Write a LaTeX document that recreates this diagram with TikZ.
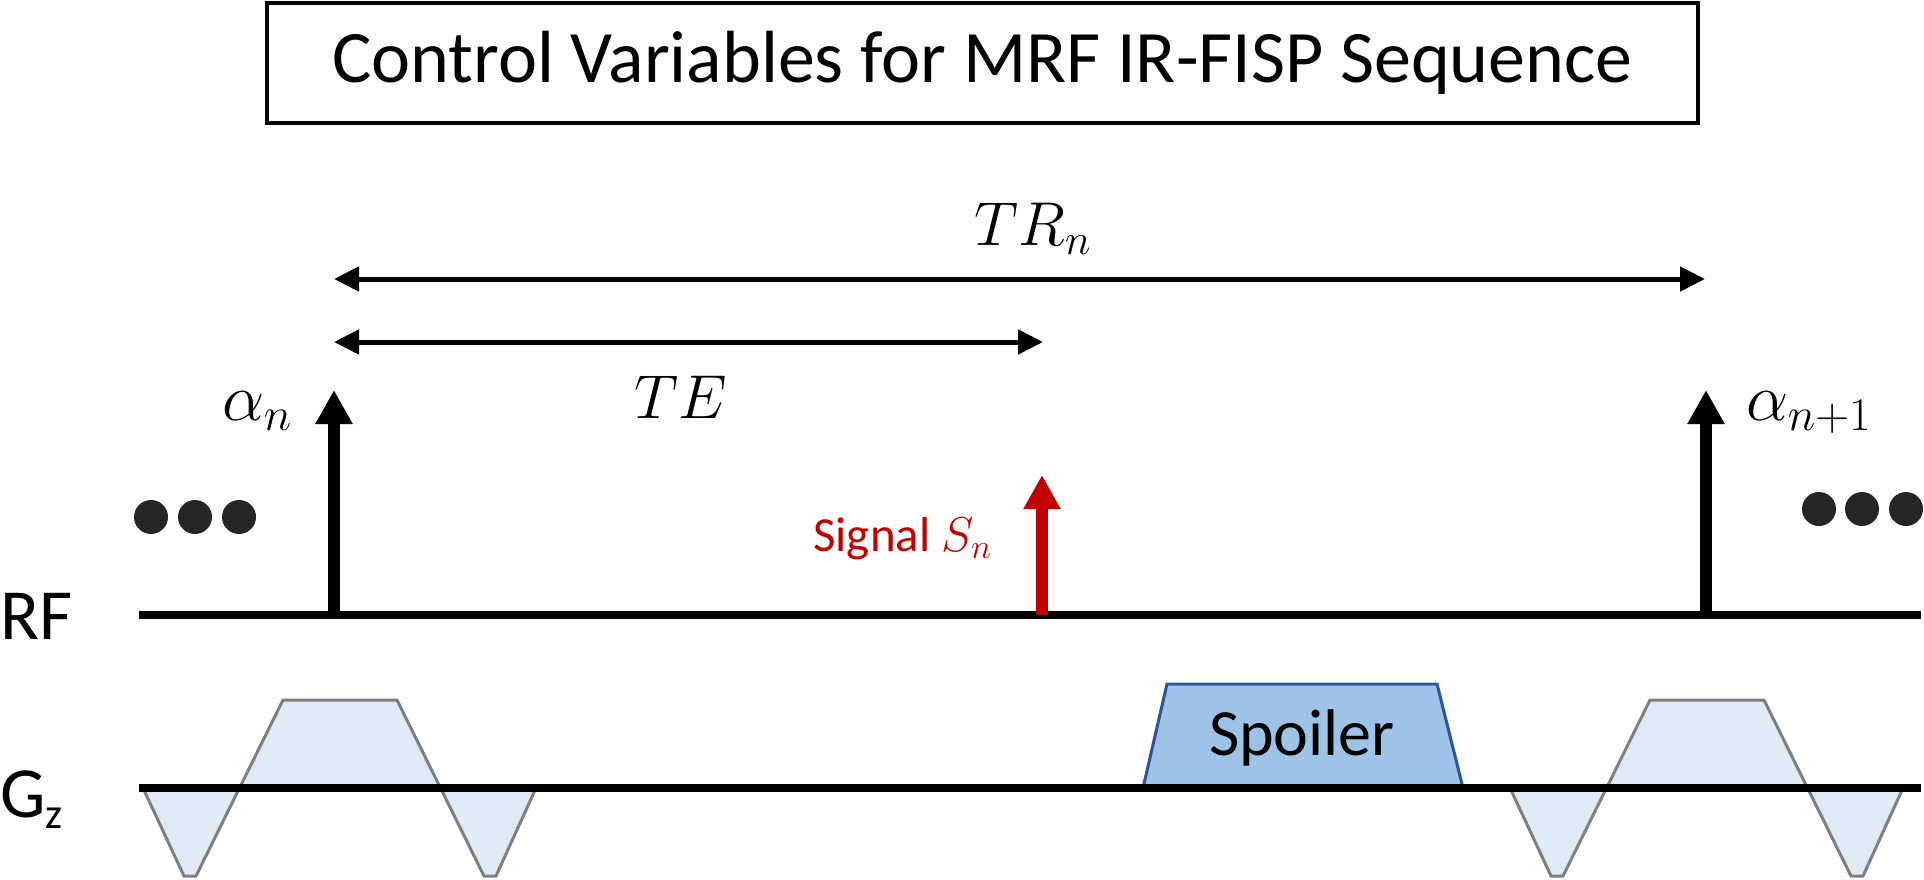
\RequirePackage{fix-cm}
\documentclass[tikz,border=0pt]{standalone}
\usepackage{fontspec}
\setmainfont{Carlito}
\usepackage{tikz}
\usetikzlibrary{arrows.meta, positioning, calc}
\usepackage{xcolor}
\definecolor{gradblue}{HTML}{DEEBF7}
\definecolor{gradgray}{HTML}{7F7F7F}
\definecolor{spoilblue}{HTML}{9DC3E6}
\definecolor{spoiledge}{HTML}{2F5597}
\definecolor{sigred}{HTML}{C00000}
\definecolor{dotgray}{HTML}{262626}

\begin{document}
\begin{tikzpicture}[x=1pt, y=-1pt,
    axisline/.style={line width=8.5pt},
    rfpulse/.style={line width=12pt, -{Triangle[length=34pt, width=35pt]}},
    sigpulse/.style={rfpulse, sigred},
    spanarrow/.style={line width=5pt,
      {Triangle[length=25pt, width=24pt]}-{Triangle[length=25pt, width=24pt]}},
    gradlobe/.style={fill=gradblue, draw=gradgray, line width=3pt},
    spoilshape/.style={fill=spoilblue, draw=spoiledge, line width=3pt},
    titlebox/.style={draw, line width=3.5pt, minimum width=1431pt,
      minimum height=120pt, inner sep=0pt, font=\fontsize{74}{88}\selectfont},
    axislabel/.style={anchor=base west, inner sep=0pt, font=\fontsize{72}{86}\selectfont},
    mathlabel/.style={inner sep=0pt, font=\fontsize{62}{74}\selectfont},
    fliplabel/.style={mathlabel, anchor=base west, font=\fontsize{67}{80}\selectfont}]
  \useasboundingbox (0,0) rectangle (1924,880);

  \node[titlebox] (title) at (982.5,63) {Control Variables for MRF IR-FISP Sequence};

  % gradient lobes
  \foreach \c in {340,1707} {
    \draw[gradlobe] (\c-197,788) -- (\c-156,876) -- (\c-144,876) -- (\c-57,700)
      -- (\c+57,700) -- (\c+144,876) -- (\c+156,876) -- (\c+196,788) -- cycle;
  }
  \draw[spoilshape] (1143,788) -- (1167,684) -- (1437,684) -- (1463,788) -- cycle;
  \node[anchor=base, inner sep=0pt, font=\fontsize{66}{80}\selectfont] (spoiler)
    at (1302,755) {Spoiler};

  % axes
  \coordinate (rfL) at (139,615);
  \coordinate (rfR) at (1921,615);
  \coordinate (gzL) at (139,788);
  \coordinate (gzR) at (1921,788);
  \draw[axisline] (rfL) -- (rfR);
  \draw[axisline] (gzL) -- (gzR);
  \node[axislabel] (rf) at (0,639) {RF};
  \node[axislabel] (gz) at (0,817) {G\raisebox{-11pt}{\fontsize{43}{50}\selectfont z}};

  % pulses and echo
  \coordinate (an0) at (334,615);
  \coordinate (an1) at (334,390);
  \coordinate (am0) at (1706,615);
  \coordinate (am1) at (1706,390);
  \coordinate (sg0) at (1042,615);
  \coordinate (sg1) at (1042,475);
  \draw[rfpulse] (an0) -- (an1);
  \draw[rfpulse] (am0) -- (am1);
  \draw[sigpulse] (sg0) -- (sg1);
  \node[fliplabel] (alphan) at (222,420) {$\alpha_n$};
  \node[fliplabel] (alphanext) at (1746,420) {$\alpha_{n+1}$};
  \node[anchor=base west, inner sep=0pt, text=sigred, font=\fontsize{49}{58}\selectfont]
    (signal) at (813,551) {Signal $S_n$};

  % timing
  \coordinate (trL) at (334,279);
  \coordinate (trR) at (1705,279);
  \coordinate (teL) at (334,342);
  \coordinate (teR) at (1043,342);
  \draw[spanarrow] (trL) -- (trR);
  \draw[spanarrow] (teL) -- (teR);
  \node[mathlabel, anchor=base] (tr) at (1033,245) {$TR_n$};
  \node[mathlabel, anchor=base] (te) at (681,418) {$TE$};

  % repetition dots
  \foreach \x in {151,195,239} \fill[dotgray] (\x,517) circle[radius=17pt];
  \foreach \x in {1819,1862,1906} \fill[dotgray] (\x,509) circle[radius=17pt];
\end{tikzpicture}
\end{document}
